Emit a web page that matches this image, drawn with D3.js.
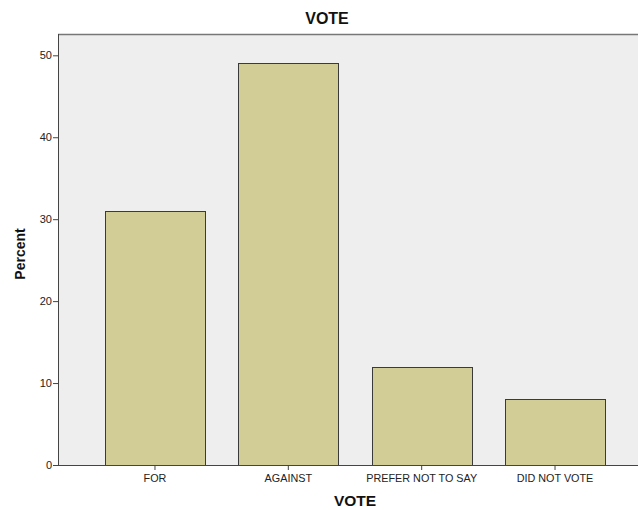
<!DOCTYPE html>
<html><head><meta charset="utf-8">
<script src="https://cdn.jsdelivr.net/npm/d3@7"></script>
<style>body{margin:0;background:#fff}svg{display:block}text{font-family:"Liberation Sans",Arial,sans-serif}</style>
</head><body>
<svg id="c" width="638" height="510"></svg>
<script>
const categories = ["FOR", "AGAINST", "PREFER NOT TO SAY", "DID NOT VOTE"];
const percents = [31, 49, 12, 8];
const yTicks = [0, 10, 20, 30, 40, 50];

const svg = d3.select("#c");
const L = 58, T = 34, R = 638, B = 465;
const y = d3.scaleLinear().domain([0, 52.6]).range([B, T]);
const x = d3.scaleBand().domain(categories).range([88.3, 621.7]).paddingInner(0.25).paddingOuter(0.125);

svg.append("rect").attr("x", L).attr("y", T).attr("width", R - L + 2).attr("height", B - T).attr("fill", "#eeeeee");
svg.append("line").attr("x1", L).attr("x2", R).attr("y1", T + 0.5).attr("y2", T + 0.5).attr("stroke", "#777").attr("stroke-width", 1.5);

svg.selectAll("rect.bar").data(percents).enter().append("rect").attr("class", "bar")
  .attr("x", (d, i) => Math.round(x(categories[i])) + 0.5)
  .attr("y", d => Math.round(y(d)) + 0.5)
  .attr("width", Math.round(x.bandwidth()))
  .attr("height", d => Math.round(B - y(d)))
  .attr("fill", "#d2cd96").attr("stroke", "#3a3a3a").attr("stroke-width", 1);

const ya = svg.append("g").attr("transform", `translate(${L},0)`)
  .call(d3.axisLeft(y).tickValues(yTicks).tickSize(5).tickPadding(1));
ya.select(".domain").attr("stroke", "#444").attr("d", `M0.5,${T}V${B}`);
ya.selectAll(".tick line").attr("stroke", "#444");
ya.selectAll("text").attr("font-size", 11).attr("fill", "#222").attr("font-family", "Liberation Sans, Arial, sans-serif");

const xa = svg.append("g").attr("transform", `translate(0,${B})`)
  .call(d3.axisBottom(x).tickSize(5).tickPadding(4));
xa.select(".domain").attr("stroke", "#444").attr("d", `M${L},0.5H${R}`);
xa.selectAll(".tick line").attr("stroke", "#444");
xa.selectAll("text").attr("font-size", 10.8).attr("fill", "#222").attr("font-family", "Liberation Sans, Arial, sans-serif");

svg.append("text").attr("x", 327).attr("y", 24).attr("text-anchor", "middle")
  .attr("font-size", 16).attr("font-weight", "bold").attr("fill", "#111").text("VOTE");
svg.append("text").attr("x", 355).attr("y", 506).attr("text-anchor", "middle")
  .attr("font-size", 15.5).attr("font-weight", "bold").attr("fill", "#111").text("VOTE");
svg.append("text").attr("transform", "translate(25,254) rotate(-90)").attr("text-anchor", "middle")
  .attr("font-size", 14).attr("font-weight", "bold").attr("fill", "#111").text("Percent");
</script>
</body></html>
